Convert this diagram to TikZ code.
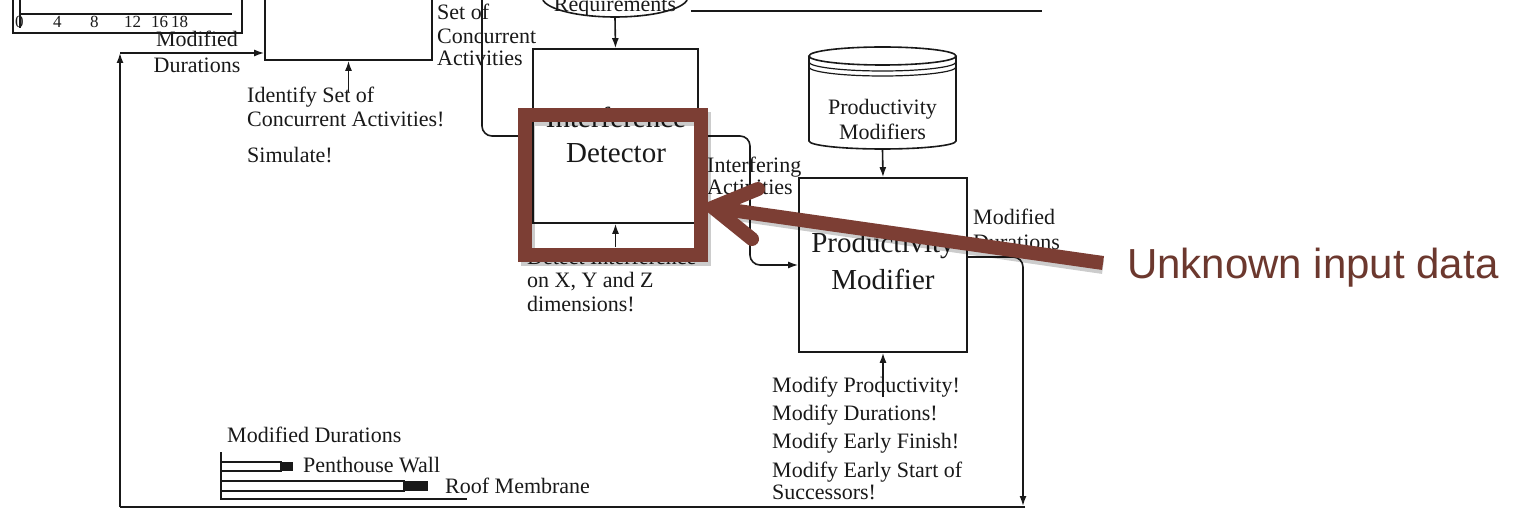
\documentclass[tikz,border=0pt]{standalone}
\usepackage{fontspec}
\setmainfont{Liberation Serif}
\newfontfamily\arialfont{Liberation Sans}
\usetikzlibrary{arrows.meta,shapes.geometric}
\definecolor{redbox}{RGB}{124,62,52}
\definecolor{redtext}{RGB}{108,56,46}
\definecolor{ink}{RGB}{25,25,25}
\begin{document}
\begin{tikzpicture}[x=1pt,y=-1pt,
  ln/.style={draw=ink, line width=1.6pt},
  arr/.style={ln, -{Latex[length=10pt,width=7pt]}},
  lbl/.style={anchor=base west, inner sep=0pt, font=\fontsize{22}{26}\selectfont, text=ink},
  clbl/.style={lbl, anchor=base},
  num/.style={lbl, font=\fontsize{17}{19}\selectfont},
  big/.style={anchor=base, inner sep=0pt, font=\fontsize{29}{35}\selectfont, text=ink},
  boxn/.style={ln, inner sep=0pt},
  redline/.style={draw=redbox, line width=14pt},
  shade/.style={draw=black, opacity=0.2, line width=14pt},
]
\clip (0,0) rectangle (1520,510);
\fill[white] (0,0) rectangle (1520,510);

% top-left chart
\node[boxn, minimum width=229pt, minimum height=60pt] (chart) at (127.5,3) {};
\draw[ln, line width=1.1pt] (20,-5) -- (20,28);
\draw[ln, line width=1.1pt] (20,14) -- (232,14);
\node[num] (n0) at (15,28) {0};
\node[num] (n4) at (53,28) {4};
\node[num] (n8) at (90,28) {8};
\node[num] (n12) at (124,28) {12};
\node[num] (n16) at (151,28) {16};
\node[num] (n18) at (171,28) {18};

% identify box (cut at top)
\node[boxn, minimum width=167pt, minimum height=110pt] (ica) at (348.5,5) {};
\node[clbl] (md1) at (197,47) {Modified};
\node[clbl] (md2) at (197,73) {Durations};
\coordinate (icain) at (348.5,92);
\draw[arr] (icain) -- (ica.south);
\node[lbl] (t1) at (247,103) {Identify Set of};
\node[lbl] (t2) at (247,127) {Concurrent Activities!};
\node[lbl] (t3) at (247,163) {Simulate!};

% set of concurrent activities
\node[lbl] (s1) at (437,20) {Set of};
\node[lbl] (s2) at (437,44) {Concurrent};
\node[lbl] (s3) at (437,66) {Activities};

% requirements
\node[ln, draw, ellipse, minimum width=146pt, minimum height=40pt] (req) at (615,-3) {};
\node[clbl] (reqt) at (615,12) {Requirements};
\coordinate (topr) at (1042,11);
\draw[ln] (req.east |- topr) ++(2,0) -- (topr);

% interference detector
\node[boxn, minimum width=165pt, minimum height=174pt] (id) at (615.5,136) {};
\node[big] (idt1) at (616,128) {Interference};
\node[big] (idt2) at (616,163) {Detector};
\draw[arr] (req.south) -- (id.north);
\coordinate (idin) at (615.5,247);
\draw[arr] (idin) -- (id.south);
\node[lbl] (d1) at (527,265) {Detect Interference};
\node[lbl] (d2) at (527,288) {on X, Y and Z};
\node[lbl] (d3) at (527,312) {dimensions!};
\coordinate (sc) at (482,-5);
\draw[arr, rounded corners=10pt] (sc) |- (id.west);

% interfering activities
\node[lbl] (ia1) at (707,173) {Interfering};
\node[lbl] (ia2) at (707,195) {Activities};

% productivity modifiers database
\node[minimum width=147pt, minimum height=103pt, inner sep=0pt] (pmdb) at (882.5,98.5) {};
\draw[ln] (809,56) -- (809,141) arc[start angle=180, end angle=0, x radius=73.5, y radius=8] -- (956,56);
\draw[ln] (882.5,56) ellipse [x radius=73.5, y radius=9];
\draw[ln, line width=1.2pt] (809,62) arc[start angle=180, end angle=0, x radius=73.5, y radius=9];
\draw[ln, line width=1.2pt] (809,67) arc[start angle=180, end angle=0, x radius=73.5, y radius=9];
\node[clbl] (db1) at (882.5,115) {Productivity};
\node[clbl] (db2) at (882.5,140) {Modifiers};

% productivity modifier
\node[boxn, minimum width=168pt, minimum height=174pt] (pm) at (883,265) {};
\node[big] (pmt1) at (883,253) {Productivity};
\node[big] (pmt2) at (883,290) {Modifier};
\draw[arr] (pmdb.south) -- (pm.north);
\draw[arr, rounded corners=10pt] (id.east) -- (750,136) |- (pm.west);
\coordinate (pmin) at (883,397);
\draw[arr] (pmin) -- (pm.south);
\node[lbl] (m1) at (772,392) {Modify Productivity!};
\node[lbl] (m2) at (772,420) {Modify Durations!};
\node[lbl] (m3) at (772,448) {Modify Early Finish!};
\node[lbl] (m4) at (772,477) {Modify Early Start of};
\node[lbl] (m5) at (772,499) {Successors!};
\node[lbl] (od1) at (973,225) {Modified};
\node[lbl] (od2) at (973,250) {Durations};

% feedback loop
\coordinate (fbr) at (1023,506);
\coordinate (fbl) at (120,507);
\coordinate (fbt) at (120,53);
\draw[arr, rounded corners=10pt] ([yshift=8pt]pm.east) -| (fbr);
\draw[ln] (fbr) ++(2,1) -- (fbl);
\draw[arr] (fbl) -- (fbt);
\draw[arr] (fbt) -- (ica.west |- fbt);

% bottom gantt
\node[lbl] (g0) at (227,442) {Modified Durations};
\draw[ln, line width=1.1pt] (221,452) -- (221,499) -- (467,499);
\draw[ln, line width=1.1pt, fill=white] (221,462) rectangle (281,471);
\fill[ink] (281,462) rectangle (293,471);
\draw[ln, line width=1.1pt, fill=white] (221,481) rectangle (404,491);
\fill[ink] (404,481) rectangle (428,491);
\node[lbl] (g1) at (303,472) {Penthouse Wall};
\node[lbl] (g2) at (445,493) {Roof Membrane};

% red overlay
\draw[shade] (528,119) rectangle (704,259);
\draw[redline] (524.5,115) rectangle (700.5,255);
\coordinate (rs) at (1103,263);
\coordinate (rt) at (713,207.5);
\draw[shade] (1103,267) -- (716,211);
\draw[redline, line cap=butt] (rs) -- (rt);
\draw[redline, line cap=round, line join=miter] (758,189) -- (rt) -- (752,239);
\node[anchor=base west, inner sep=0pt, text=redtext, font=\arialfont\fontsize{42}{50}\selectfont] (unk) at (1127,279) {Unknown input data};
\end{tikzpicture}
\end{document}
